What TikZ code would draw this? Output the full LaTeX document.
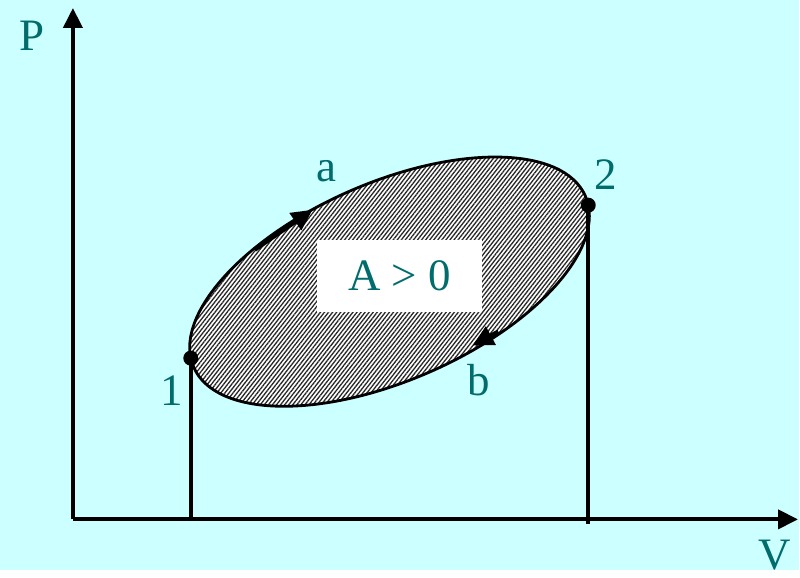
\documentclass[tikz,border=0pt]{standalone}
\usepackage{fontspec}
\setmainfont{Liberation Serif}
\usetikzlibrary{arrows.meta,patterns.meta}
\definecolor{bgcyan}{RGB}{204,255,255}
\definecolor{labteal}{RGB}{0,108,108}

\begin{document}
\begin{tikzpicture}[x=0.5pt,y=-0.5pt,
    every node/.style={text=labteal, font=\fontsize{22.5}{26}\selectfont},
    axis/.style={line width=2pt, -{Triangle[length=10pt,width=9.5pt]}},
    drop/.style={line width=2pt},
    dot/.style={circle, fill=black, inner sep=0pt, minimum size=7.5pt},
    flow/.style={line width=2.2pt, -{Triangle[length=10.5pt,width=10pt]}}
]
\fill[bgcyan] (0,0) rectangle (800,571);

\coordinate (o) at (73,520);
\coordinate (ptop) at (73,8);
\coordinate (vend) at (799,520);

% cycle
\begin{scope}[shift={(390,282)}, rotate=23.6]
\path[preaction={fill=white}, pattern={Lines[angle=52,distance=1.6pt,line width=0.65pt]}, pattern color=black!85]
    (0,0) ellipse [x radius=107pt, y radius=49.5pt];
\draw[line width=1.4pt] (0,0) ellipse [x radius=107pt, y radius=49.5pt];
\coordinate (p1) at (174.5:107pt and 49.5pt);
\coordinate (p2) at (354.5:107pt and 49.5pt);
\end{scope}

\draw[drop] (p1) -- (p1 |- o);
\draw[drop] (p2) -- ([yshift=-2.5pt]p2 |- o);

\draw[axis] (o) -- (ptop);
\draw[axis] (o) -- (vend);

\node[dot] (n1) at (p1) {};
\node[dot] (n2) at (p2) {};

\coordinate (a1) at (255,250);
\coordinate (a2) at (313,210);
\coordinate (b1) at (499,332);
\coordinate (b2) at (473,346);
\draw[flow] (a1) -- (a2);
\draw[flow] (b1) -- (b2);

\node[fill=white, minimum width=83pt, minimum height=36pt] (area) at (400,276) {A > 0};

\node (lp) at (32,36) {P};
\node (lv) at (776,556) {V};
\node (la) at (327,171) {a};
\node (lb) at (479,381) {b};
\node (l1) at (172,391) {1};
\node (l2) at (606,175) {2};
\end{tikzpicture}
\end{document}
